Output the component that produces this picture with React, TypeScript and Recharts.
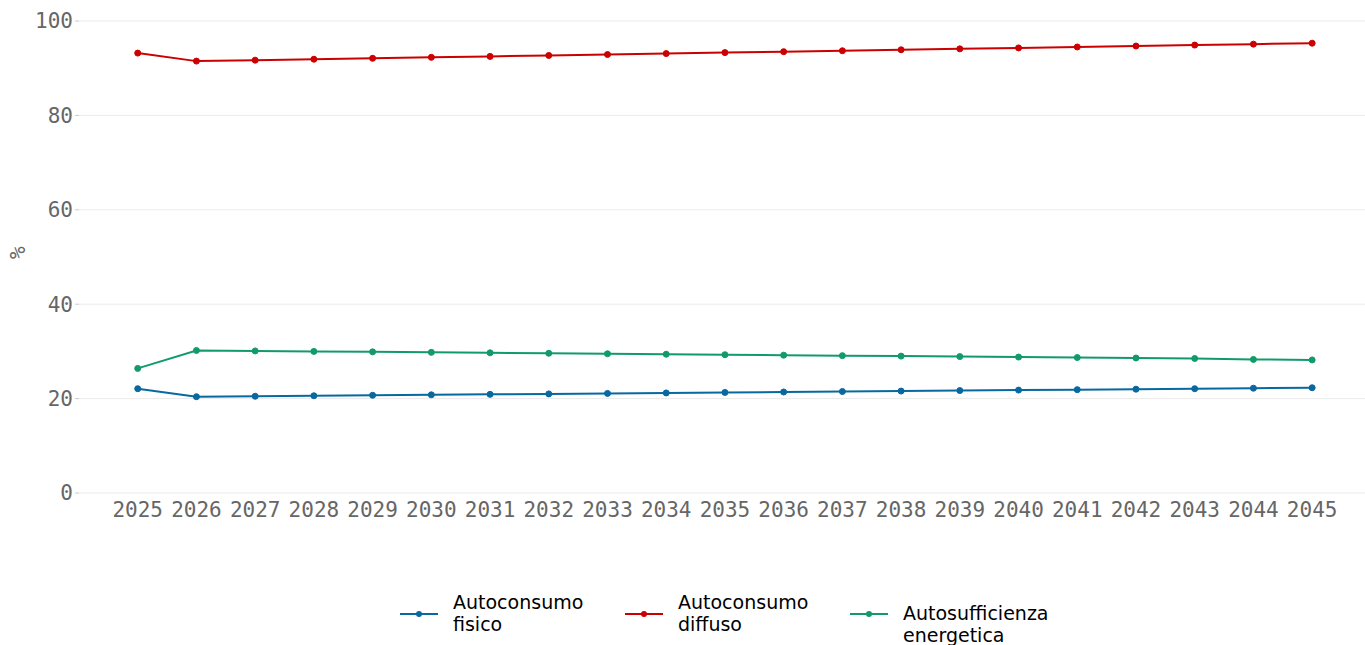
import React from 'react';
import { LineChart, Line, XAxis, YAxis, CartesianGrid, Legend } from 'recharts';

// Years shown on the x axis
const years = [
  2025, 2026, 2027, 2028, 2029, 2030, 2031, 2032, 2033, 2034, 2035,
  2036, 2037, 2038, 2039, 2040, 2041, 2042, 2043, 2044, 2045,
];

// Values (%)
const autoconsumoFisico = [
  22.1, 20.4, 20.5, 20.6, 20.7, 20.8, 20.9, 21.0, 21.1, 21.2, 21.3,
  21.4, 21.5, 21.6, 21.7, 21.8, 21.9, 22.0, 22.1, 22.2, 22.3,
];
const autoconsumoDiffuso = [
  93.2, 91.5, 91.7, 91.9, 92.1, 92.3, 92.5, 92.7, 92.9, 93.1, 93.3,
  93.5, 93.7, 93.9, 94.1, 94.3, 94.5, 94.7, 94.9, 95.1, 95.3,
];
const autosufficienza = [
  26.4, 30.2, 30.1, 30.0, 29.9, 29.8, 29.7, 29.6, 29.5, 29.4, 29.3,
  29.2, 29.1, 29.0, 28.9, 28.8, 28.7, 28.6, 28.5, 28.3, 28.2,
];

const yTicks = [0, 20, 40, 60, 80, 100];

const series = [
  { key: 'fisico', label: ['Autoconsumo', 'fisico'], color: '#0868a0', offset: 0 },
  { key: 'diffuso', label: ['Autoconsumo', 'diffuso'], color: '#cc0000', offset: 0 },
  { key: 'autosuff', label: ['Autosufficienza', 'energetica'], color: '#129b6a', offset: 11 },
];

const data = years.map((year, i) => ({
  year,
  fisico: autoconsumoFisico[i],
  diffuso: autoconsumoDiffuso[i],
  autosuff: autosufficienza[i],
}));

const mono = '"DejaVu Sans Mono", monospace';

function ChartLegend() {
  return (
    <div style={{ position: 'relative', height: 65, fontFamily: '"DejaVu Sans", sans-serif' }}>
      {series.map((s, i) => (
        <div key={s.key} style={{ position: 'absolute', left: 400 + i * 225, top: 0, width: 225, height: 65 }}>
          <svg width={40} height={10} style={{ position: 'absolute', left: 0, top: 29 }}>
            <line x1={0} y1={5} x2={38} y2={5} stroke={s.color} strokeWidth={2} />
            <circle cx={19} cy={5} r={3} fill={s.color} />
          </svg>
          <div
            style={{
              position: 'absolute',
              left: 53,
              top: 11 + s.offset,
              fontSize: 19,
              lineHeight: '22px',
              color: '#000',
            }}
          >
            <div>{s.label[0]}</div>
            <div>{s.label[1]}</div>
          </div>
        </div>
      ))}
    </div>
  );
}

export default function App() {
  return (
    <div style={{ position: 'absolute', left: 0, top: 0, width: 1365, height: 645, background: '#fff' }}>
      <LineChart width={1365} height={645} data={data} margin={{ top: 21, right: 0, bottom: 0, left: 0 }}>
        <CartesianGrid vertical={false} stroke="#ebebeb" />
        <XAxis
          dataKey="year"
          type="number"
          domain={[2024, 2045.9]}
          ticks={years}
          interval={0}
          axisLine={false}
          tickLine={false}
          height={87}
          tick={{ fill: '#666', fontSize: 21, fontFamily: mono, dy: 1 }}
        />
        <YAxis
          domain={[0, 100]}
          ticks={yTicks}
          width={79}
          axisLine={false}
          tickLine={{ stroke: '#ccc' }}
          tickSize={4}
          tick={{ fill: '#666', fontSize: 21, fontFamily: mono }}
          label={{ value: '%', angle: -90, position: 'insideLeft', dx: 13, dy: 2, fill: '#666', fontSize: 21, fontFamily: mono }}
        />
        {series.map((s) => (
          <Line
            key={s.key}
            dataKey={s.key}
            stroke={s.color}
            strokeWidth={2}
            dot={{ r: 3, fill: s.color, stroke: s.color, strokeWidth: 1 }}
            isAnimationActive={false}
          />
        ))}
        <Legend verticalAlign="bottom" content={() => <ChartLegend />} wrapperStyle={{ left: 0, width: 1365, bottom: 0 }} />
      </LineChart>
    </div>
  );
}
